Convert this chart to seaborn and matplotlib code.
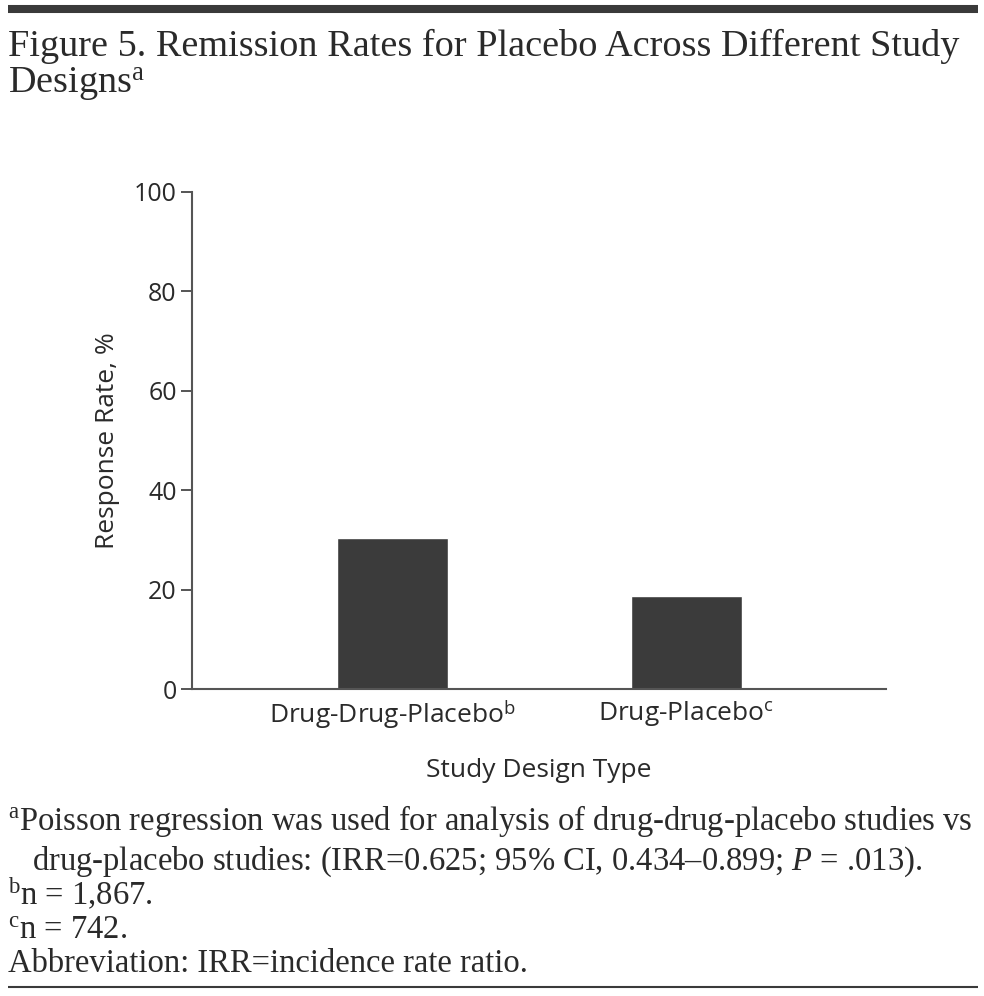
import numpy as np
import pandas as pd
import seaborn as sns
import matplotlib.pyplot as plt
from matplotlib.lines import Line2D

# values
designs = ['Drug-Drug-Placebo', 'Drug-Placebo']
design_labels = ['Drug-Drug-Placebo$^{\\mathsf{b}}$', 'Drug-Placebo$^{\\mathsf{c}}$']
response_rate = [30.3, 18.7]
y_ticks = [0, 20, 40, 60, 80, 100]

df = pd.DataFrame({'design': designs, 'rate': response_rate})

sns.set_style('ticks')
plt.rcParams['font.family'] = ['Open Sans', 'DejaVu Sans']
plt.rcParams['mathtext.fontset'] = 'custom'
plt.rcParams['mathtext.rm'] = 'Liberation Serif'
plt.rcParams['mathtext.it'] = 'Liberation Serif:italic'
plt.rcParams['mathtext.sf'] = 'Open Sans'

dark = '#3b3b3b'
txt = '#2a2a2a'
fig = plt.figure(figsize=(9.84, 9.96), dpi=100)
ax = fig.add_axes([0.1951, 0.3082, 0.7053, 0.4995])

sns.barplot(data=df, x='design', y='rate', color=dark, width=0.378,
            saturation=1, ax=ax)
ax.set_xlim(-0.683, 1.681)
ax.set_ylim(0, 100)
ax.set_yticks(y_ticks)
ax.set_xticks([0, 1])
ax.set_xticklabels(design_labels)
ax.tick_params(axis='y', length=8, width=1.4, color='#555555', labelsize=18, labelcolor=txt, pad=3)
ax.tick_params(axis='x', length=0, labelsize=19, labelcolor=txt, pad=7)
for s in ['top', 'right']:
    ax.spines[s].set_visible(False)
for s in ['left', 'bottom']:
    ax.spines[s].set_color('#555555')
    ax.spines[s].set_linewidth(1.5)
ax.set_xlabel('Study Design Type', fontsize=19, color=txt, labelpad=19)
ax.set_ylabel('Response Rate, %', fontsize=19, color=txt, labelpad=10)

# header rule and title
fig.add_artist(Line2D([0.008, 0.994], [0.991, 0.991], color='#3a3a3a', lw=5.8,
                      solid_capstyle='butt'))
serif = 'Liberation Serif'
fig.text(0.008, 0.9438, 'Figure 5. Remission Rates for Placebo Across Different Study',
         family=serif, fontsize=27.5, color=txt, va='baseline')
fig.text(0.008, 0.9067, 'Designs$^{\\mathrm{a}}$',
         family=serif, fontsize=27.5, color=txt, va='baseline')

# footnotes
notes = [
    (0.008, 0.1667, '$^{\\mathrm{a}}$Poisson regression was used for analysis of drug-drug-placebo studies vs'),
    (0.033, 0.1265, 'drug-placebo studies: (IRR=0.625; 95% CI, 0.434\u20130.899; $\\mathit{P}$ = .013).'),
    (0.008, 0.0914, '$^{\\mathrm{b}}$n = 1,867.'),
    (0.008, 0.0572, '$^{\\mathrm{c}}$n = 742.'),
    (0.008, 0.0241, 'Abbreviation: IRR=incidence rate ratio.'),
]
for x, y, t in notes:
    fig.text(x, y, t, family=serif, fontsize=23.5, color=txt, va='baseline')
fig.add_artist(Line2D([0.008, 0.994], [0.0095, 0.0095], color='#3a3a3a', lw=1.5,
                      solid_capstyle='butt'))

fig.savefig('out.png', dpi=100)
